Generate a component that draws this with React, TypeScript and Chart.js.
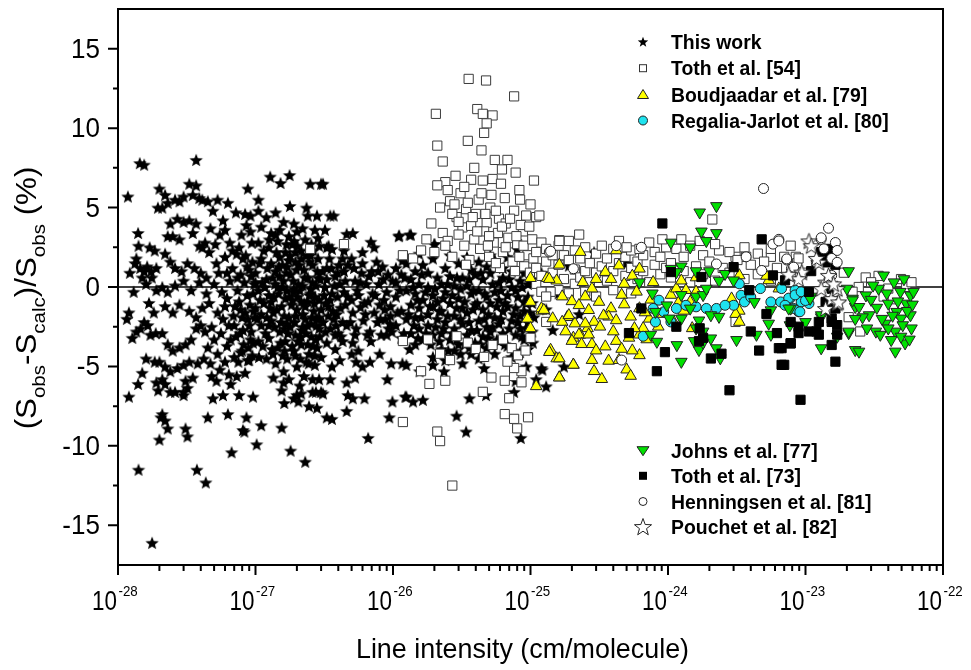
import { useEffect, useRef } from 'react';
import { Chart, registerables } from 'chart.js';

Chart.register(...registerables);

type Pt = [number, number];

// Line intensity (cm/molecule), relative deviation (%)
const thisWork: Pt[] = [
  [1.18e-28, 5.7], [1.44e-28, 7.8], [1.55e-28, 7.7], [1.2e-28, -6.9], [1.4e-28, 3.4], [1.41e-28, 2.6],
  [1.16e-28, -2.0], [1.2e-28, -1.6], [1.27e-28, -3.2], [1.36e-28, -2.8], [1.46e-28, -2.6], [1.4e-28, -6.1],
  [1.5e-28, -5.4], [1.41e-28, -11.5], [1.77e-28, -16.1], [1.22e-28, 0.9], [1.33e-28, 1.5], [1.45e-28, 1.2],
  [1.55e-28, 1.0], [1.63e-28, 1.3], [1.74e-28, 1.0], [1.6e-28, 0.2], [1.5e-28, 0.6], [1.7e-28, 2.5],
  [1.85e-28, 2.3], [1.9e-28, 1.2], [1.95e-28, 5.0], [2.0e-28, 6.2], [1.72e-28, -3.0], [1.85e-28, -4.7],
  [1.9e-28, -6.0], [1.96e-28, -6.5], [1.82e-28, -1.6], [1.65e-28, -2.4], [1.9e-28, -0.2], [1.6e-28, -4.5],
  [1.55e-28, -2.2], [1.76e-28, 0.6], [1.3e-28, -0.3], [1.68e-28, -1.0], [1.88e-28, -2.9], [1.36e-28, 1.8],
  [2.0e-28, -9.6], [2.1e-28, -8.0], [2.2e-28, -8.4], [2.3e-28, -8.9], [2.05e-28, -8.2], [3.1e-28, -8.9],
  [3.2e-28, -9.4], [3.75e-28, -11.5], [4.35e-28, -12.3], [3.7e-28, 8.0], [2.2e-28, 5.8], [2.1e-28, 5.0],
  [2.3e-28, 5.3], [2.6e-28, 5.5], [2.8e-28, 5.4], [3.0e-28, 5.7], [3.3e-28, 6.5], [3.7e-28, 6.4],
  [3.9e-28, 5.6], [4.1e-28, 5.5], [3.5e-28, 5.8], [2.4e-28, 4.0], [2.7e-28, 4.3], [3.0e-28, 4.1],
  [3.3e-28, 4.2], [3.7e-28, 4.0], [2.3e-28, 3.2], [2.5e-28, 3.2], [2.8e-28, 3.0], [3.5e-28, 3.4],
  [3.9e-28, 2.6], [4.1e-28, 2.5], [4.3e-28, 2.8], [2.2e-28, 2.1], [2.4e-28, 1.6], [2.6e-28, 1.2],
  [2.9e-28, 1.0], [3.2e-28, 1.5], [3.6e-28, 1.2], [4.0e-28, 0.9], [2.1e-28, 0.0], [2.3e-28, -0.3],
  [2.6e-28, 0.1], [3.0e-28, 0.4], [3.4e-28, -0.2], [3.9e-28, 0.3], [2.2e-28, -1.2], [2.5e-28, -1.6],
  [2.8e-28, -1.1], [3.3e-28, -1.5], [3.7e-28, -1.9], [4.1e-28, -1.3], [2.1e-28, -2.9], [2.3e-28, -3.6],
  [2.5e-28, -4.0], [2.8e-28, -3.8], [3.1e-28, -3.6], [3.4e-28, -3.3], [3.7e-28, -2.6], [4.0e-28, -2.4],
  [4.3e-28, -2.8], [2.0e-28, -4.7], [2.2e-28, -5.0], [2.4e-28, -5.3], [2.7e-28, -5.1], [3.0e-28, -4.9],
  [3.3e-28, -4.7], [3.8e-28, -4.8], [4.2e-28, -4.5], [2.1e-28, -5.8], [2.2e-28, -6.1], [2.6e-28, -6.6],
  [3.0e-28, -6.6], [3.2e-28, -6.35], [3.5e-28, -5.7], [2.4e-28, -6.6], [3.0e-28, -6.8], [3.1e-28, -5.9],
  [4.5e-28, -8.2], [6.3e-28, -8.0], [6.7e-28, -10.4], [8.1e-28, -9.0], [8.3e-28, -9.1], [8.6e-28, -8.2],
  [8.8e-28, 6.2], [4.5e-28, 5.4], [5.3e-28, 5.5], [6.3e-28, 5.3], [7.2e-28, 4.7], [8.4e-28, 4.6],
  [9.2e-28, 4.5], [4.9e-28, 4.8], [5.8e-28, 4.2], [4.7e-28, 3.7], [5.5e-28, 3.3], [6.5e-28, 2.8],
  [7.6e-28, 2.5], [8.5e-28, 2.0], [9.5e-28, 1.6], [4.6e-28, 2.2], [5.2e-28, 1.5], [6.0e-28, 1.9],
  [6.8e-28, 1.2], [7.8e-28, 0.8], [9.0e-28, 1.1], [4.4e-28, 0.6], [5.0e-28, 0.2], [5.7e-28, -0.3],
  [6.5e-28, 0.4], [7.4e-28, -0.2], [8.3e-28, 0.3], [9.6e-28, -0.4], [4.6e-28, -1.0], [5.3e-28, -1.6],
  [6.0e-28, -1.2], [6.9e-28, -1.8], [7.8e-28, -1.4], [8.8e-28, -2.0], [9.7e-28, -1.5], [4.8e-28, -2.5],
  [5.6e-28, -2.9], [6.4e-28, -2.4], [7.2e-28, -3.1], [8.1e-28, -2.7], [9.2e-28, -3.3], [4.5e-28, -3.8],
  [5.3e-28, -4.2], [6.2e-28, -3.7], [7.0e-28, -4.4], [8.0e-28, -4.0], [9.0e-28, -4.6], [4.7e-28, -4.8],
  [6.0e-28, -4.7], [7.5e-28, -4.7], [8.8e-28, -4.6], [5.5e-28, -5.2], [7.3e-28, -5.6], [8.4e-28, -5.4],
  [4.9e-28, -7.0], [5.8e-28, -6.8], [7.6e-28, -6.8], [9.6e-28, -6.9], [5.2e-28, -5.9], [6.6e-28, -6.1],
  [7.0e-28, -2.4], [7.6e-28, -0.9], [8.2e-28, -3.6], [8.7e-28, 1.3], [9.3e-28, -2.8], [9.8e-28, 0.2],
  [7.3e-28, 2.1], [8.0e-28, -1.9], [8.9e-28, -3.8], [9.4e-28, 2.8], [6.2e-28, 0.9], [6.6e-28, -3.3],
  [5.8e-28, -2.0], [7.9e-28, 3.3], [9.1e-28, -1.1],
  [7.1e-28, -1.2], [7.4e-28, 0.6], [7.7e-28, -2.9], [8.1e-28, 1.8], [8.4e-28, -1.6], [8.7e-28, -0.5],
  [9.0e-28, -2.4], [9.3e-28, 0.7], [9.6e-28, -3.5], [9.9e-28, -1.9], [8.6e-28, 3.9], [9.2e-28, 3.5],
  [7.8e-28, -4.1], [9.5e-28, -4.3], [5.0e-28, -3.3], [5.4e-28, 0.9], [6.2e-28, -0.7], [6.8e-28, 2.3],
  [4.4e-28, -0.4], [5.1e-28, 2.7], [6.0e-28, 3.6], [4.8e-28, -5.6], [6.4e-28, -5.5],
  [1.02e-27, -9.9], [1.1e-27, -8.7], [1.55e-27, -8.85], [1.8e-27, -10.3], [2.3e-27, -11.0], [1.28e-27, 6.95],
  [1.52e-27, 6.55], [1.77e-27, 7.05], [2.5e-27, 6.5], [3.0e-27, 6.5], [1.05e-27, 5.5], [1.05e-27, 4.8],
  [1.2e-27, 4.4], [1.4e-27, 4.7], [1.78e-27, 5.1], [2.35e-27, 5.0], [2.4e-27, 4.5], [1.9e-27, 4.0],
  [1.6e-27, 4.1], [2.8e-27, 4.5], [1.1e-27, 3.8], [1.3e-27, 3.4], [1.5e-27, 3.6], [1.75e-27, 3.2],
  [2.0e-27, 3.5], [2.3e-27, 3.0], [2.7e-27, 3.6], [2.9e-27, 2.6], [1.05e-27, 2.8], [1.25e-27, 2.5],
  [1.45e-27, 2.9], [1.65e-27, 2.2], [1.85e-27, 2.7], [2.15e-27, 2.3], [2.5e-27, 2.0], [2.85e-27, 1.8],
  [1.1e-27, 1.8], [1.3e-27, 1.5], [1.5e-27, 1.9], [1.7e-27, 1.3], [1.95e-27, 1.6], [2.25e-27, 1.1],
  [2.6e-27, 1.4], [1.0e-27, 0.9], [1.2e-27, 0.5], [1.4e-27, 1.0], [1.6e-27, 0.4], [1.8e-27, 0.8],
  [2.05e-27, 0.2], [2.4e-27, 0.6], [2.75e-27, 0.1], [1.05e-27, -0.2], [1.25e-27, -0.5], [1.45e-27, 0.0],
  [1.65e-27, -0.7], [1.9e-27, -0.3], [2.15e-27, -0.9], [2.5e-27, -0.4], [2.9e-27, -0.8], [1.0e-27, -1.3],
  [1.15e-27, -1.0], [1.35e-27, -1.6], [1.55e-27, -1.2], [1.75e-27, -1.9], [2.0e-27, -1.4], [2.3e-27, -2.0],
  [2.65e-27, -1.5], [1.1e-27, -2.4], [1.3e-27, -2.1], [1.5e-27, -2.8], [1.7e-27, -2.3], [1.95e-27, -3.0],
  [2.2e-27, -2.5], [2.55e-27, -3.1], [2.9e-27, -2.6], [1.05e-27, -3.4], [1.25e-27, -3.2], [1.45e-27, -3.8],
  [1.65e-27, -3.4], [1.9e-27, -4.0], [2.15e-27, -3.6], [2.45e-27, -4.2], [2.8e-27, -3.8], [1.2e-27, -4.5],
  [1.4e-27, -4.8], [1.7e-27, -4.5], [2.0e-27, -5.0], [2.35e-27, -4.7], [2.7e-27, -4.9], [1.35e-27, -5.7],
  [1.6e-27, -5.3], [1.75e-27, -5.8], [2.1e-27, -6.2], [2.25e-27, -5.6], [2.6e-27, -5.8], [1.62e-27, -7.3],
  [1.55e-27, -6.5], [1.6e-27, -6.0], [1.9e-27, -7.0], [2.0e-27, -6.8], [2.05e-27, -7.2], [2.15e-27, -6.7],
  [2.45e-27, -7.5], [2.6e-27, -6.6], [2.75e-27, -6.6], [2.9e-27, -5.8], [1.95e-27, -4.3],
  [1.08e-27, -0.8], [1.12e-27, 0.3], [1.18e-27, -2.9], [1.22e-27, 1.2], [1.28e-27, -1.3], [1.33e-27, 0.6],
  [1.38e-27, -2.5], [1.42e-27, 2.2], [1.47e-27, -0.4], [1.52e-27, -3.5], [1.57e-27, 1.4], [1.62e-27, -1.8],
  [1.68e-27, 0.9], [1.72e-27, -2.9], [1.78e-27, 2.0], [1.83e-27, -1.1], [1.88e-27, 0.4], [1.93e-27, -2.2],
  [1.98e-27, 1.1], [2.04e-27, -3.4], [2.1e-27, -0.2], [2.16e-27, 1.8], [2.22e-27, -1.7], [2.28e-27, 0.6],
  [2.34e-27, -2.9], [2.4e-27, -0.9], [2.47e-27, 1.6], [2.54e-27, -2.3], [2.6e-27, 0.3], [2.68e-27, -1.0],
  [2.75e-27, -3.3], [2.82e-27, 1.0], [2.9e-27, -1.9], [2.96e-27, 0.5], [1.06e-27, -4.4], [1.32e-27, -3.9],
  [1.58e-27, -4.3], [1.85e-27, -3.7], [2.12e-27, -4.5], [2.4e-27, -3.6], [2.7e-27, -4.3], [1.15e-27, 2.3],
  [1.4e-27, 3.3], [1.68e-27, 2.7], [1.95e-27, 2.2], [2.2e-27, 3.7], [2.55e-27, 2.7], [2.85e-27, 3.1],
  [1.1e-27, -1.7], [1.36e-27, -0.6], [1.62e-27, -2.6], [1.9e-27, -0.1], [2.18e-27, -2.7], [2.46e-27, -0.5],
  [2.78e-27, -2.4], [1.0e-27, 0.3], [1.25e-27, -2.4], [1.5e-27, 0.7], [1.76e-27, -0.6], [2.02e-27, 2.6],
  [2.3e-27, -1.2], [2.62e-27, -3.7],
  [1.03e-27, -2.0], [1.07e-27, 1.5], [1.13e-27, -3.7], [1.17e-27, 0.0], [1.21e-27, -1.9], [1.26e-27, 3.0],
  [1.3e-27, -0.9], [1.34e-27, -4.2], [1.39e-27, 0.2], [1.43e-27, -1.4], [1.48e-27, 1.3], [1.53e-27, -2.2],
  [1.58e-27, 0.0], [1.63e-27, -4.0], [1.69e-27, -0.2], [1.74e-27, 1.7], [1.79e-27, -2.5], [1.86e-27, -0.8],
  [1.91e-27, 2.9], [1.97e-27, -1.8], [2.03e-27, -0.6], [2.08e-27, 1.4], [2.14e-27, -3.1], [2.2e-27, 0.1],
  [2.26e-27, -1.0], [2.33e-27, 2.0], [2.39e-27, -2.4], [2.44e-27, -4.8], [2.52e-27, -0.1], [2.58e-27, -1.9],
  [2.64e-27, 2.3], [2.71e-27, -0.6], [2.79e-27, -2.0], [2.86e-27, 0.6], [2.93e-27, -3.1], [3.0e-27, -1.4],
  [3.08e-27, 1.0], [3.15e-27, -0.5], [3.22e-27, -2.8], [3.3e-27, 0.5], [3.38e-27, -1.8], [3.48e-27, -0.8],
  [3.57e-27, 1.2], [3.65e-27, -1.5], [3.75e-27, 0.1], [3.85e-27, -2.4], [3.95e-27, -0.6], [4.05e-27, 1.4],
  [4.15e-27, -1.3], [4.3e-27, -2.2], [4.4e-27, -0.3],
  [3.1e-27, 6.5], [3.5e-27, 4.5], [3.7e-27, 4.5], [4.6e-27, 3.35], [5.1e-27, 3.4], [6.9e-27, 2.85],
  [1.1e-26, 3.2], [3.2e-27, 3.6], [3.4e-27, 2.6], [3.6e-27, 2.4], [4.3e-27, 1.8], [5.0e-27, 1.8],
  [6.0e-27, 1.5], [7.0e-27, 1.0], [7.8e-27, 1.0], [8.5e-27, 0.5], [1.17e-26, 1.67], [3.3e-27, 1.2],
  [3.8e-27, 0.7], [4.4e-27, 1.0], [5.3e-27, 0.4], [6.4e-27, 0.2], [3.2e-27, 0.0], [3.6e-27, -0.4],
  [4.1e-27, 0.2], [4.7e-27, -0.6], [5.5e-27, -0.2], [6.6e-27, -0.9], [7.4e-27, -0.5], [8.0e-27, -1.1],
  [9.0e-27, -0.3], [9.6e-27, -1.8], [3.4e-27, -1.2], [3.9e-27, -1.7], [4.5e-27, -1.1], [5.1e-27, -1.6],
  [5.8e-27, -1.25], [6.3e-27, -1.7], [8.8e-27, -2.0], [9.5e-27, -2.3], [3.1e-27, -2.2], [3.5e-27, -2.6],
  [4.0e-27, -2.9], [4.6e-27, -2.4], [5.3e-27, -3.0], [6.8e-27, -2.8], [8.2e-27, -3.0], [3.3e-27, -3.5],
  [3.8e-27, -3.9], [4.3e-27, -3.4], [5.0e-27, -4.2], [5.4e-27, -4.7], [6.0e-27, -5.0], [6.8e-27, -4.7],
  [3.0e-27, -4.4], [3.6e-27, -5.0], [4.1e-27, -4.6], [5.3e-27, -5.7], [4.6e-27, -6.0], [4.7e-27, -6.8],
  [5.1e-27, -7.0], [4.6e-27, -7.8], [3.6e-27, -8.3], [3.3e-27, -8.2], [2.8e-27, -7.6], [3.1e-27, -6.7],
  [3.0e-27, -6.6], [3.5e-27, -5.8], [6.2e-27, -7.0], [9.1e-27, -5.8], [9.9e-27, -7.2], [9.4e-27, -8.2],
  [1.23e-26, -6.9], [6.6e-27, -9.5], [9.7e-27, -4.8], [9.0e-27, -3.0],
  [3.25e-27, -1.0], [3.45e-27, 1.8], [3.7e-27, -2.0], [3.95e-27, 0.9], [4.2e-27, -3.1], [4.5e-27, 0.4],
  [4.9e-27, -2.2], [5.2e-27, 1.2], [5.6e-27, -0.5], [6.1e-27, -2.1], [6.7e-27, 0.7], [7.3e-27, -1.6],
  [7.9e-27, 0.2], [8.6e-27, -0.8], [9.3e-27, -2.6], [9.9e-27, 0.4], [3.3e-27, 2.5], [3.8e-27, -3.0],
  [4.4e-27, 2.3], [5.1e-27, -3.5], [5.9e-27, 0.9], [6.9e-27, -3.4], [7.7e-27, -2.2], [8.4e-27, 1.3],
  [9.6e-27, -1.2],
  [4.7e-27, 1.4], [5.0e-27, -0.8], [5.4e-27, -2.6], [5.8e-27, 0.3], [6.2e-27, -1.0], [6.5e-27, -3.0],
  [7.1e-27, -0.4], [7.6e-27, 1.6], [8.1e-27, -2.0], [8.7e-27, -1.4], [9.2e-27, 0.8], [9.8e-27, -2.8],
  [6.0e-27, 2.2], [7.3e-27, 2.5], [5.6e-27, -4.0], [8.0e-27, -4.2],
  [1.05e-26, -0.6], [1.05e-26, 1.2], [1.05e-26, -2.4], [1.05e-26, 0.3], [1.15e-26, -1.5], [1.15e-26, -3.2],
  [1.15e-26, 0.8], [1.25e-26, -0.2], [1.25e-26, -2.0], [1.25e-26, 1.5], [1.25e-26, -4.9], [1.35e-26, -1.1],
  [1.35e-26, 0.5], [1.35e-26, -2.9], [1.35e-26, 3.3], [1.45e-26, -0.4], [1.45e-26, -1.9], [1.45e-26, 1.0],
  [1.45e-26, -3.6], [1.55e-26, 0.2], [1.55e-26, -1.3], [1.55e-26, -2.6], [1.55e-26, 2.1], [1.65e-26, -0.8],
  [1.65e-26, 1.4], [1.65e-26, -3.3], [1.56e-26, -5.3], [1.8e-26, 0.0], [1.8e-26, -1.7], [1.8e-26, -2.4],
  [1.8e-26, 0.9], [1.95e-26, -0.5], [1.95e-26, -1.2], [1.95e-26, -3.0], [1.95e-26, 1.8], [1.95e-26, -4.4],
  [2.1e-26, 0.6], [2.1e-26, -2.0], [2.1e-26, -0.9], [2.0e-26, 2.7], [2.25e-26, -1.5], [2.25e-26, -2.9],
  [2.25e-26, 0.2], [2.25e-26, -3.9], [2.4e-26, 1.2], [2.4e-26, -0.3], [2.4e-26, -2.2], [2.4e-26, -4.6],
  [2.6e-26, -1.0], [2.6e-26, 0.7], [2.6e-26, -3.3], [2.6e-26, 2.0], [2.8e-26, -1.8], [2.8e-26, 0.1],
  [2.8e-26, -2.6], [2.8e-26, -4.0], [3.0e-26, 1.5], [3.0e-26, -0.7], [3.0e-26, -3.6], [3.2e-26, -1.3],
  [3.2e-26, -2.3], [3.2e-26, 0.6], [3.2e-26, -4.8], [3.45e-26, 0.1], [3.45e-26, -1.6], [3.45e-26, -3.0],
  [3.45e-26, 1.9], [3.7e-26, -0.4], [3.7e-26, -2.7], [3.7e-26, 1.1], [3.7e-26, -4.2], [3.95e-26, 0.8],
  [3.95e-26, -1.1], [3.95e-26, -3.5], [4.2e-26, -0.2], [4.2e-26, -2.1], [4.2e-26, 1.6], [4.2e-26, -4.5],
  [4.5e-26, 0.5], [4.5e-26, -1.4], [4.5e-26, -3.1], [4.6e-26, -5.1], [4.8e-26, -0.6], [4.8e-26, -2.5],
  [4.8e-26, 1.3], [4.8e-26, -3.8], [5.1e-26, 0.9], [5.1e-26, -1.0], [5.1e-26, -2.8], [5.1e-26, 2.0],
  [5.5e-26, -0.3], [5.5e-26, -1.9], [5.5e-26, 1.7], [5.5e-26, -4.2], [5.9e-26, 0.3], [5.9e-26, -2.3],
  [5.9e-26, -0.8], [5.9e-26, -3.4], [6.3e-26, 1.2], [6.3e-26, -1.5], [6.3e-26, -2.9], [6.3e-26, 0.6],
  [6.8e-26, -0.5], [6.8e-26, -1.2], [6.8e-26, -3.7], [6.8e-26, 1.9], [7.3e-26, 0.0], [7.3e-26, -2.1],
  [7.3e-26, 1.0], [7.3e-26, -4.4], [7.8e-26, -1.3], [7.8e-26, -0.2], [7.8e-26, -3.0], [8.0e-26, 2.4],
  [8.4e-26, 0.4], [8.4e-26, -1.8], [8.4e-26, -2.6], [8.4e-26, -4.1], [9.0e-26, -0.9], [9.0e-26, 0.9],
  [9.0e-26, -3.3], [9.0e-26, -1.5], [9.6e-26, 0.2], [9.6e-26, -2.2], [9.6e-26, -0.6], [9.6e-26, -3.9],
  [1.03e-25, -1.0], [1.03e-25, 0.5], [1.03e-25, -2.8],
  [1.08e-26, -1.6], [1.12e-26, -0.2], [1.2e-26, -2.9], [1.22e-26, 0.6], [1.3e-26, -1.7], [1.32e-26, -3.9],
  [1.4e-26, 0.0], [1.42e-26, -2.4], [1.5e-26, -0.8], [1.52e-26, -3.2], [1.6e-26, -1.9], [1.62e-26, 0.8],
  [1.72e-26, -0.3], [1.74e-26, -2.9], [1.86e-26, -1.2], [1.88e-26, -3.6], [2.02e-26, -0.1], [2.04e-26, -2.5],
  [2.17e-26, -1.5], [2.18e-26, -3.4], [2.32e-26, -0.7], [2.34e-26, -2.6], [2.5e-26, 0.2], [2.5e-26, -1.8],
  [2.52e-26, -4.0], [2.7e-26, -0.5], [2.7e-26, -2.9], [2.9e-26, -1.3], [2.9e-26, -3.3], [2.92e-26, 0.6],
  [3.1e-26, -0.1], [3.1e-26, -2.0], [3.1e-26, -4.2], [3.32e-26, -0.9], [3.34e-26, -3.6], [3.58e-26, 0.5],
  [3.58e-26, -2.2], [3.6e-26, -3.8], [3.82e-26, -1.4], [3.84e-26, -0.2], [4.08e-26, -2.7], [4.1e-26, -1.0],
  [4.35e-26, 0.9], [4.35e-26, -3.6], [4.62e-26, -2.0], [4.65e-26, -0.4], [4.95e-26, -1.7], [4.95e-26, -3.2],
  [5.3e-26, 0.2], [5.3e-26, -2.5], [5.7e-26, -1.2], [5.7e-26, -3.3], [6.1e-26, -0.2], [6.1e-26, -2.0],
  [6.5e-26, -3.6], [6.55e-26, -1.0], [7.0e-26, 0.5], [7.0e-26, -2.6], [7.55e-26, -1.7], [7.55e-26, -4.0],
  [8.1e-26, -0.6], [8.1e-26, -2.2], [8.7e-26, 0.0], [8.7e-26, -3.1], [9.3e-26, -1.0], [9.3e-26, -2.6],
  [9.9e-26, -1.6], [9.9e-26, 0.9], [1.04e-25, -3.5], [1.06e-25, -1.9],
  [1.25e-26, -6.9], [1.65e-26, -7.1], [1.4e-26, -7.2], [1.17e-26, -4.8], [1.95e-26, -4.9], [2.35e-26, -5.3],
  [2.9e-26, -8.1], [3.4e-26, -9.1], [3.6e-26, -7.0], [4.75e-26, -6.8], [7.8e-26, -5.9], [7.6e-26, -6.6],
  [8.5e-26, -9.5], [9.3e-26, -5.0], [1.2e-25, -5.1], [1.3e-25, -6.25], [1.1e-25, -5.8], [1.75e-25, -5.0],
  [1.45e-25, -2.7], [1.11e-26, 3.25], [1.32e-26, 3.3], [2.0e-26, 2.7], [2.26e-25, -1.7], [1.22e-25, -5.2],
  [2.9e-25, 2.2], [5.0e-25, 1.5], [1.9e-25, 1.35], [1.2e-25, 0.9], [1.3e-25, -1.4], [1.6e-25, -0.4],
];

const toth54: Pt[] = [
  [2.5e-27, 2.4], [4.4e-27, 2.7], [1.18e-26, 2.0], [1.18e-26, -3.4], [1.18e-26, -8.5],
  [3.55e-26, 13.1], [4.75e-26, 13.0], [7.6e-26, 12.0], [2.05e-26, 10.9], [4.1e-26, 11.2], [4.5e-26, 10.9],
  [5.3e-26, 10.8], [4.8e-26, 10.3], [4.6e-26, 9.7], [3.5e-26, 9.2], [2.1e-26, 8.9], [2.3e-26, 7.9],
  [5.5e-26, 8.0], [6.8e-26, 8.0], [7.8e-26, 7.2], [1.06e-25, 6.7], [2.85e-26, 7.0], [2.4e-26, 6.6],
  [2.1e-26, 6.4], [3.7e-26, 6.75], [4.5e-26, 6.7], [5.3e-26, 6.8], [6.1e-26, 6.5], [8.3e-26, 6.1],
  [2.6e-26, 5.4], [4.2e-26, 5.5], [5.2e-26, 5.8], [6.5e-26, 5.6], [8.4e-26, 5.5], [1.0e-25, 5.2],
  [1.1e-25, 4.4], [1.9e-26, 4.0], [2.3e-26, 3.4], [2.9e-26, 4.4], [3.2e-26, 3.75], [3.7e-26, 3.85],
  [4.8e-26, 4.05], [5.9e-26, 4.3], [7.6e-26, 4.8], [9.3e-26, 4.5], [2.26e-25, 3.3], [1.62e-25, 2.95],
  [1.4e-26, 1.8], [1.6e-26, 2.3], [1.75e-26, 3.0], [2.0e-26, 2.2], [2.5e-26, 2.9], [2.7e-26, 1.9],
  [3.0e-26, 3.3], [3.3e-26, 2.6], [3.6e-26, 1.7], [3.9e-26, 3.0], [4.3e-26, 2.4], [4.6e-26, 3.5],
  [5.0e-26, 1.9], [5.4e-26, 2.8], [5.8e-26, 3.4], [6.3e-26, 2.2], [6.9e-26, 3.1], [7.4e-26, 1.6],
  [8.0e-26, 2.7], [8.8e-26, 3.5], [9.5e-26, 2.0], [4.0e-26, 4.6], [5.1e-26, 5.0], [3.4e-26, 4.9],
  [6.6e-26, 4.0], [8.5e-26, 3.9], [2.7e-26, 4.6], [3.1e-26, 5.9], [9.0e-26, 1.3], [6.0e-26, 1.2],
  [2.2e-26, 5.0], [2.5e-26, 6.1], [2.8e-26, 5.2], [3.0e-26, 4.1], [3.3e-26, 6.3], [3.5e-26, 5.3],
  [3.8e-26, 4.4], [4.1e-26, 3.5], [4.4e-26, 5.9], [4.7e-26, 4.6], [5.0e-26, 3.2], [5.6e-26, 4.8],
  [6.2e-26, 3.8], [6.6e-26, 2.5], [7.1e-26, 4.3], [7.9e-26, 3.2], [8.9e-26, 2.6], [9.8e-26, 3.8],
  [3.9e-26, 7.5], [4.4e-26, 8.6], [6.2e-26, 7.4], [1.03e-25, 3.0], [1.05e-25, 1.8], [9.9e-26, 0.9],
  [2.4e-26, 2.6], [3.4e-26, 1.4], [4.9e-26, 2.6], [5.6e-26, 1.5], [7.7e-26, 1.0], [8.3e-26, 1.9],
  [1.6e-26, -5.3], [1.84e-26, -6.1], [2.4e-26, -5.9], [5.2e-26, -5.7], [6.5e-26, -5.9], [7.6e-26, -5.6],
  [8.6e-26, -5.3], [8.6e-26, -6.0], [4.5e-26, -6.6], [7.0e-26, -7.0], [6.5e-26, -8.0], [7.6e-26, -8.3],
  [9.6e-26, -8.2], [2.1e-26, -9.1], [2.2e-26, -9.7], [2.7e-26, -12.5], [8.0e-26, -8.9],
  [2.9e-26, -3.1], [3.5e-26, -3.5], [4.0e-26, -3.9], [5.3e-26, -3.65], [6.3e-26, -3.3], [7.3e-26, -3.85],
  [8.1e-26, -4.3], [7.6e-26, -5.1], [6.8e-26, -4.7], [1.8e-26, -3.3], [2.2e-26, -4.2], [2.6e-26, -4.6],
  [4.6e-26, -4.4], [9.2e-26, -4.0], [1.0e-25, -3.2],
  [1.16e-25, 4.5], [1.1e-25, 1.2], [1.1e-25, 2.2], [1.1e-25, 0.2], [1.2e-25, 2.8], [1.2e-25, 0.7],
  [1.3e-25, 1.6], [1.3e-25, -0.5], [1.3e-25, 2.4], [1.45e-25, 0.9], [1.45e-25, 2.0], [1.6e-25, 1.4],
  [1.6e-25, -0.2], [1.6e-25, 2.6], [1.75e-25, 0.5], [1.75e-25, 2.0], [1.9e-25, 1.7], [1.9e-25, -0.4],
  [1.9e-25, 2.9], [2.1e-25, 1.1], [2.1e-25, 0.2], [2.1e-25, 2.3], [2.3e-25, 1.8], [2.3e-25, 0.6],
  [2.5e-25, 2.5], [2.5e-25, 1.0], [2.5e-25, -0.3], [2.7e-25, 1.5], [2.7e-25, 0.3], [3.0e-25, 2.1],
  [3.0e-25, 0.9], [3.0e-25, -0.6], [3.3e-25, 1.3], [3.3e-25, 2.6], [3.6e-25, 0.4], [3.6e-25, 1.8],
  [4.0e-25, 2.4], [4.0e-25, 1.0], [4.0e-25, -0.2], [4.4e-25, 1.5], [4.4e-25, 2.9], [4.9e-25, 0.7],
  [4.9e-25, 1.9], [5.4e-25, 2.3], [5.4e-25, 1.2], [5.4e-25, -0.4], [6.0e-25, 1.6], [6.0e-25, 0.5],
  [6.6e-25, 2.0], [6.6e-25, 1.0], [7.3e-25, 2.8], [7.3e-25, 0.3], [8.0e-25, 1.4], [8.0e-25, 2.2],
  [8.8e-25, 0.8], [8.8e-25, 1.9], [9.7e-25, 2.5], [9.7e-25, 1.2], [1.62e-25, 2.9], [5.0e-25, 2.5],
  [6.2e-25, 2.4], [9.1e-25, 3.0], [1.25e-24, 3.0], [1.7e-24, 2.9], [2.1e-24, 4.25], [2.35e-24, 2.3],
  [3.1e-24, 1.9], [3.7e-24, 1.9], [5.6e-24, 1.9], [8.5e-24, 1.9], [1.3e-25, -2.2], [1.4e-25, -0.3],
  [1.2e-25, -0.3], [3.1e-24, -2.2], [1.3e-25, -0.6],
  [1.05e-24, 1.5], [1.05e-24, 0.6], [1.15e-24, 2.4], [1.3e-24, 1.0], [1.3e-24, 1.9], [1.45e-24, 0.3],
  [1.45e-24, 2.6], [1.6e-24, 1.3], [1.8e-24, 2.0], [1.8e-24, 0.8], [2.0e-24, 1.6], [2.2e-24, 2.7],
  [2.2e-24, 0.4], [2.5e-24, 1.2], [2.8e-24, 2.2], [2.8e-24, 0.9], [3.2e-24, 1.7], [3.6e-24, 2.5],
  [3.6e-24, 0.5], [4.0e-24, 1.4], [4.5e-24, 2.1], [4.5e-24, 0.8], [5.0e-24, 1.6], [5.6e-24, 0.4],
  [5.6e-24, 2.4], [6.2e-24, 1.2], [7.0e-24, 1.9], [7.8e-24, 0.7], [7.8e-24, 2.6], [8.7e-24, 1.5],
  [9.5e-24, 0.9], [8.9e-24, 1.8],
  [2.74e-23, 0.6], [3.4e-23, 0.7], [4.95e-23, 0.5], [5.4e-23, 0.0], [2.44e-23, 0.0], [2.06e-23, -1.9],
  [2.5e-23, -2.8], [4.4e-23, -1.35], [4.0e-23, -0.1], [2.2e-23, -0.3], [1.9e-23, 0.9], [3.0e-23, 0.3],
  [5.9e-23, 0.3], [3.7e-23, -0.6],
];

const boudjaadar79: Pt[] = [
  [2.3e-25, 2.2], [1.0e-25, 0.56], [1.62e-25, 1.4], [1.32e-25, 0.56], [1.55e-25, 0.4], [1.0e-25, -0.94],
  [1.2e-25, -1.5], [9.5e-26, -2.0], [1.0e-25, -2.6], [1.7e-25, -0.6], [2.0e-25, -0.9], [1.85e-25, -1.9],
  [2.1e-25, -2.3], [1.4e-25, -3.96], [1.55e-25, -4.5], [1.62e-25, -5.7], [2.05e-25, -4.9], [1.1e-25, -6.25],
  [2.05e-25, -3.2], [2.3e-25, -3.0], [2.6e-25, -2.6],
  [4.2e-25, 2.3], [1.37e-25, 0.5], [1.2e-25, -1.35], [1.25e-25, -1.45], [2.5e-25, -0.6], [2.8e-25, -0.1],
  [3.5e-25, 0.94], [4.4e-25, 1.35], [3.85e-25, 0.5], [4.8e-25, 0.2], [6.2e-25, 1.15], [5.9e-25, -0.3],
  [4.6e-25, -0.5], [3.85e-25, -1.35], [3.15e-25, -0.94], [2.65e-25, -1.46], [2.25e-25, -1.15],
  [1.7e-25, -2.2], [1.45e-25, -1.98], [1.9e-25, -1.78], [2.25e-25, -3.0], [2.65e-25, -3.0], [2.9e-25, -2.2],
  [3.7e-25, -1.87], [4.2e-25, -2.1], [5.35e-25, -1.87], [6.2e-25, -1.35],
  [2.35e-25, -3.6], [2.8e-25, -3.6], [3.5e-25, -3.75], [4.2e-25, -3.4], [5.2e-25, -3.2], [6.2e-25, -3.0],
  [1.37e-25, -4.1], [1.62e-25, -4.5], [2.05e-25, -4.9], [2.8e-25, -4.6], [3.7e-25, -4.65], [5.0e-25, -5.2],
  [2.9e-25, -5.3], [3.3e-25, -5.8], [1.62e-25, -5.7], [5.35e-25, -5.6], [6.2e-25, -4.3], [4.4e-25, -4.6],
  [7.3e-25, -2.0], [8.0e-25, -1.35], [1.05e-24, -0.5], [1.2e-24, -0.94], [1.45e-24, -0.94], [1.15e-24, -0.1],
  [1.6e-24, -0.3], [1.25e-24, 0.4], [1.6e-24, 0.6], [2.9e-24, -0.73], [3.3e-24, 0.73], [3.3e-24, -1.5],
  [5.4e-24, 0.42], [6.4e-24, -0.1], [3.1e-24, -1.7], [3.3e-24, -2.2], [5.2e-24, 0.7],
  [7.5e-25, -0.8], [8.5e-25, -2.5], [9.2e-25, -1.7], [7.0e-25, -3.3], [1.1e-24, -2.2], [1.3e-24, -1.5],
  [1.5e-24, -2.6], [1.35e-24, -0.2], [6.6e-25, -2.6], [5.7e-25, -2.6], [4.0e-25, -2.8], [3.2e-25, -2.5],
  [2.5e-25, -2.3], [3.0e-25, -4.0], [4.6e-25, -3.9], [5.5e-25, -4.0], [2.0e-25, -3.4], [1.8e-25, -2.8],
  [3.4e-25, -1.8], [4.8e-25, -1.1], [5.5e-25, 0.7], [3.0e-25, 0.5], [2.4e-25, 0.3], [7.8e-25, 0.3],
  [6.8e-25, -1.6],
];

const regaliaJarlot80: Pt[] = [
  [6.6e-25, -3.1], [1.05e-24, -2.2], [8.6e-25, -0.83], [7.8e-25, -1.35], [9.3e-25, -1.56], [1.15e-24, -1.35],
  [1.35e-24, -1.15], [1.6e-24, -1.25], [1.9e-24, -1.35], [2.25e-24, -1.35], [3.3e-24, 0.2], [3.4e-24, -0.52],
  [3.6e-24, -0.94], [4.0e-24, -0.63], [4.7e-24, -0.1], [5.6e-24, -0.94], [6.6e-24, -0.94], [7.7e-24, -0.73],
  [8.4e-24, -0.2], [9.3e-24, -0.94], [1.06e-23, -1.04], [8.9e-24, -1.56], [8.1e-25, -2.2], [3.0e-24, -1.15],
  [2.6e-24, -1.15], [6.7e-24, -0.1], [7.55e-24, -0.7], [8.4e-24, -0.5], [9.3e-24, -0.3], [7.1e-24, -1.15],
  [8.2e-24, -1.35], [9.1e-24, -1.56], [1.0e-23, -0.85],
];

const johns77: Pt[] = [
  [1.7e-24, 4.7], [2.25e-24, 5.1], [1.75e-24, 3.5], [2.25e-24, 3.4], [1.05e-24, 2.8], [1.45e-24, 2.5],
  [1.9e-24, 2.9], [6.2e-25, 0.3], [7.7e-25, -0.4], [9.8e-25, -1.15], [1.25e-24, 1.3], [1.6e-24, 1.0],
  [2.0e-24, 1.0], [2.35e-24, 0.4], [8.1e-25, -1.56], [1.02e-24, -1.98], [1.25e-24, -1.98], [1.68e-24, -2.1],
  [2.05e-24, -1.77], [2.35e-24, -1.87], [7.5e-25, -3.0], [8.3e-25, -3.44], [1.16e-24, -3.65], [1.68e-24, -3.96],
  [2.05e-24, -3.23], [2.25e-24, -3.85], [2.4e-24, -4.48], [1.25e-24, -4.7], [3.15e-24, -3.33], [4.4e-24, -3.0],
  [5.6e-24, -3.0], [7.7e-24, -2.4], [1.0e-23, -2.2], [1.3e-23, -1.9], [2.06e-23, -2.9], [4.25e-24, -0.94],
  [5.6e-24, -1.46], [7.8e-24, -1.35], [5.4e-24, -2.3], [1.3e-23, -3.85], [2.3e-23, -3.96], [2.06e-23, 1.0],
  [2.2e-23, -0.73], [2.3e-23, -1.25], [1.1e-23, -0.6], [1.47e-23, 0.0], [1.45e-24, -1.35], [1.6e-24, -0.6],
  [1.8e-24, -0.5], [1.9e-24, -0.1], [1.6e-24, -2.6], [1.8e-24, -2.8], [1.25e-24, -0.5], [1.55e-24, -3.4],
  [1.8e-24, -3.5], [1.05e-24, 1.15], [1.15e-24, 0.94], [2.6e-24, 0.83], [3.0e-24, 0.42],
  [3.7e-23, 0.73], [2.0e-23, -0.1], [2.75e-23, -0.52], [2.45e-23, -1.25], [2.2e-23, -0.83], [2.06e-23, -2.8],
  [2.45e-23, -4.06], [2.9e-23, -1.77], [3.4e-23, -0.1], [4.0e-23, -1.04], [4.6e-23, -1.56], [5.4e-23, -1.04],
  [5.8e-23, -0.52], [4.9e-23, -0.3], [3.25e-23, -2.8], [3.8e-23, -2.3], [4.5e-23, -2.8], [4.95e-23, -1.98],
  [5.8e-23, -1.77], [5.3e-23, -3.54], [4.2e-23, -3.33], [4.95e-23, -3.12], [4.5e-23, -4.06], [7.55e-24, -1.35],
  [1.08e-23, -0.73], [1.3e-23, -1.77], [1.7e-23, -3.12],
  [2.6e-23, -1.9], [3.0e-23, -0.8], [3.3e-23, -1.3], [3.6e-23, -2.0], [3.9e-23, -0.4], [4.3e-23, -1.8],
  [4.7e-23, -0.9], [5.1e-23, -2.4], [5.5e-23, -1.5], [5.9e-23, -2.6], [6.0e-23, -1.1], [5.7e-23, -3.3],
  [4.0e-23, -2.6], [3.5e-23, -3.0], [2.8e-23, -2.6], [6.1e-23, -0.3], [5.2e-23, 0.5], [4.4e-23, 0.3],
  [2.3e-23, -2.0], [3.1e-23, 0.1],
];

const toth73: Pt[] = [
  [9.1e-25, 4.0], [4.8e-24, 3.0], [1.05e-24, 0.94], [1.75e-24, 0.63], [3.0e-24, 1.25], [6.4e-25, -1.35],
  [1.15e-24, -2.5], [1.68e-24, -3.4], [2.05e-24, -4.5], [2.45e-24, -4.2], [5.2e-25, -2.9], [9.5e-25, -4.1],
  [8.3e-25, -5.3], [2.8e-24, -6.5], [9.2e-24, -7.1], [4.0e-24, -2.8], [4.6e-24, -4.0], [6.2e-24, -2.9],
  [6.4e-24, -3.85], [7.8e-24, -3.54], [6.7e-24, -4.9], [1.65e-23, -4.7], [3.9e-24, -0.2], [5.2e-24, -1.7],
  [5.8e-24, 0.73], [7.1e-24, 0.42], [1.06e-23, -0.31], [1.3e-23, 2.2], [1.47e-23, 1.8], [1.55e-23, -2.2],
  [1.7e-23, -3.0], [1.25e-23, -3.0], [1.06e-23, -2.8], [8.9e-24, -2.5], [1.7e-24, -2.6], [1.8e-24, -3.2],
  [7.8e-24, -2.2], [8.9e-24, -2.9], [1.2e-23, -2.8], [1.25e-23, -2.2], [7.8e-24, -3.55], [6.7e-24, -3.85],
  [7.0e-24, -4.9], [1.55e-23, -3.65], [1.47e-23, 2.4], [1.65e-23, 1.4], [1.1e-23, 1.0], [1.4e-23, 1.55],
  [1.55e-23, -0.1], [1.65e-23, -1.35], [1.7e-23, -2.4], [1.4e-23, -0.94], [1.55e-23, -1.98],
];

const henningsen81: Pt[] = [
  [4.95e-24, 6.2], [1.37e-25, 2.2], [2.05e-25, 1.15], [6.4e-25, 2.5], [2.25e-24, 1.45], [3.7e-24, 1.9],
  [4.8e-24, 1.04], [5.8e-24, 2.7], [6.4e-24, 3.0], [7.3e-24, 1.7], [7.9e-24, 1.15], [1.3e-23, 3.0],
  [1.47e-23, 3.7], [1.65e-23, 2.8], [1.7e-23, 2.3], [1.55e-23, 1.8], [4.6e-25, -4.6], [1.4e-25, 2.25],
  [1.3e-23, 3.1], [1.7e-23, 1.55], [1.55e-23, 0.73], [1.2e-23, 1.55], [7.3e-24, 1.77], [8.2e-24, 1.25],
  [6.4e-24, 2.9], [1.36e-23, 2.4], [4.2e-25, 2.6],
];

const pouchet82: Pt[] = [
  [1.06e-23, 2.9], [1.25e-23, 1.56], [9.4e-24, 0.94], [1.4e-23, 0.31], [1.7e-23, -1.0], [1.3e-23, -0.1],
  [8.9e-24, 0.52], [7.55e-24, 0.8], [1.2e-23, 1.8], [1.47e-23, 0.73], [1.55e-23, -0.73], [1.4e-23, -1.35],
  [1.74e-23, -0.94], [1.7e-23, -0.1], [1.1e-23, 2.6], [1.6e-23, 0.2],
];

const seriesLabels = [
  'This work',
  'Toth et al. [54]',
  'Boudjaadar et al. [79]',
  'Regalia-Jarlot et al. [80]',
  'Johns et al. [77]',
  'Toth et al. [73]',
  'Henningsen et al. [81]',
  'Pouchet et al. [82]',
];

const xDecades = [-28, -27, -26, -25, -24, -23, -22];
const yMajorTicks = [-15, -10, -5, 0, 5, 10, 15];
const yMinorTicks = [-12.5, -7.5, -2.5, 2.5, 7.5, 12.5];

const FONT = "'Liberation Sans', Arial, Helvetica, sans-serif";
const YELLOW = '#ffff00';
const CYAN = '#1fe3ef';
const GREEN = '#00e000';

function starPath(ctx: CanvasRenderingContext2D, cx: number, cy: number, outer: number, inner: number) {
  ctx.beginPath();
  for (let i = 0; i < 10; i++) {
    const r = i % 2 === 0 ? outer : inner;
    const a = -Math.PI / 2 + (i * Math.PI) / 5;
    const px = cx + r * Math.cos(a);
    const py = cy + r * Math.sin(a);
    if (i === 0) ctx.moveTo(px, py);
    else ctx.lineTo(px, py);
  }
  ctx.closePath();
}

function starSprite(outer: number, inner: number, fill: string, stroke: string | null) {
  const size = Math.ceil(outer * 2 + 4);
  const c = document.createElement('canvas');
  c.width = size;
  c.height = size;
  const ctx = c.getContext('2d')!;
  starPath(ctx, size / 2, size / 2 + outer * 0.1, outer, inner);
  ctx.fillStyle = fill;
  ctx.fill();
  if (stroke) {
    ctx.lineWidth = 1;
    ctx.strokeStyle = stroke;
    ctx.stroke();
  }
  return c;
}

function text(
  ctx: CanvasRenderingContext2D, s: string, x: number, y: number, font: string,
  align: CanvasTextAlign, sx = 1,
) {
  ctx.save();
  ctx.font = font;
  ctx.textAlign = align;
  ctx.textBaseline = 'alphabetic';
  ctx.translate(x, y);
  ctx.scale(sx, 1);
  ctx.fillStyle = '#000';
  ctx.fillText(s, 0, 0);
  ctx.restore();
}

type Marker = (ctx: CanvasRenderingContext2D, x: number, y: number) => void;

const legendMarkers: Marker[] = [
  (ctx, x, y) => { starPath(ctx, x, y + 0.5, 5.5, 2.3); ctx.fillStyle = '#000'; ctx.fill(); },
  (ctx, x, y) => { ctx.fillStyle = '#fff'; ctx.strokeStyle = '#333'; ctx.lineWidth = 1; ctx.fillRect(x - 3.5, y - 3.5, 7, 7); ctx.strokeRect(x - 3.5, y - 3.5, 7, 7); },
  (ctx, x, y) => { ctx.beginPath(); ctx.moveTo(x, y - 5); ctx.lineTo(x + 5.5, y + 4); ctx.lineTo(x - 5.5, y + 4); ctx.closePath(); ctx.fillStyle = YELLOW; ctx.fill(); ctx.strokeStyle = '#222'; ctx.lineWidth = 1; ctx.stroke(); },
  (ctx, x, y) => { ctx.beginPath(); ctx.arc(x, y, 4.5, 0, Math.PI * 2); ctx.fillStyle = CYAN; ctx.fill(); ctx.strokeStyle = '#222'; ctx.lineWidth = 1; ctx.stroke(); },
  (ctx, x, y) => { ctx.beginPath(); ctx.moveTo(x, y + 5); ctx.lineTo(x + 6, y - 4); ctx.lineTo(x - 6, y - 4); ctx.closePath(); ctx.fillStyle = GREEN; ctx.fill(); ctx.strokeStyle = '#222'; ctx.lineWidth = 1; ctx.stroke(); },
  (ctx, x, y) => { ctx.fillStyle = '#000'; ctx.fillRect(x - 4, y - 4, 8, 8); },
  (ctx, x, y) => { ctx.beginPath(); ctx.arc(x, y, 4, 0, Math.PI * 2); ctx.fillStyle = '#fff'; ctx.fill(); ctx.strokeStyle = '#222'; ctx.lineWidth = 1; ctx.stroke(); },
  (ctx, x, y) => { starPath(ctx, x, y + 0.8, 9, 3.7); ctx.fillStyle = '#fff'; ctx.fill(); ctx.strokeStyle = '#222'; ctx.lineWidth = 1; ctx.stroke(); },
];

const decorations = {
  id: 'decorations',
  beforeDatasetsDraw(chart: any) {
    const { ctx, chartArea: a, scales } = chart;
    const y0 = scales.y.getPixelForValue(0);
    ctx.save();
    ctx.strokeStyle = '#000';
    ctx.lineWidth = 1.5;
    ctx.beginPath();
    ctx.moveTo(a.left, y0);
    ctx.lineTo(a.right, y0);
    ctx.stroke();
    ctx.restore();
  },
  afterDraw(chart: any) {
    const { ctx, chartArea: a, scales } = chart;
    const xs = scales.x;
    const ys = scales.y;
    ctx.save();
    ctx.strokeStyle = '#000';
    ctx.lineWidth = 2;
    ctx.strokeRect(a.left, a.top, a.right - a.left, a.bottom - a.top);

    // x ticks: decades and the 2..9 subdivisions
    ctx.beginPath();
    xDecades.forEach((e, i) => {
      const px = xs.getPixelForValue(Math.pow(10, e));
      ctx.moveTo(px, a.bottom);
      ctx.lineTo(px, a.bottom + 10);
      if (i < xDecades.length - 1) {
        for (let m = 2; m <= 9; m++) {
          const mx = xs.getPixelForValue(m * Math.pow(10, e));
          ctx.moveTo(mx, a.bottom);
          ctx.lineTo(mx, a.bottom + 6);
        }
      }
    });
    yMajorTicks.forEach((v) => {
      const py = ys.getPixelForValue(v);
      ctx.moveTo(a.left, py);
      ctx.lineTo(a.left - 10, py);
    });
    yMinorTicks.forEach((v) => {
      const py = ys.getPixelForValue(v);
      ctx.moveTo(a.left, py);
      ctx.lineTo(a.left - 5, py);
    });
    ctx.stroke();

    xDecades.forEach((e) => {
      const px = xs.getPixelForValue(Math.pow(10, e));
      text(ctx, '10', px - 1, 610, `28px ${FONT}`, 'right', 0.8);
      text(ctx, String(e), px + 0.5, 596, `14px ${FONT}`, 'left', 0.95);
    });
    yMajorTicks.forEach((v) => {
      const py = ys.getPixelForValue(v);
      text(ctx, String(v), 100, py + 9, `28px ${FONT}`, 'right', 0.93);
    });

    text(ctx, 'Line intensity (cm/molecule)', (a.left + a.right) / 2 - 8, 658, `28px ${FONT}`, 'center', 0.96);

    const parts: [string, boolean][] = [
      ['(S', false], ['obs', true], ['-S', false], ['calc', true], [')/S', false], ['obs', true], [' (%)', false],
    ];
    const mainFont = `29px ${FONT}`;
    const subFont = `19px ${FONT}`;
    const stretch = 1.08;
    let total = 0;
    parts.forEach(([s, sub]) => { ctx.font = sub ? subFont : mainFont; total += ctx.measureText(s).width; });
    ctx.save();
    ctx.translate(36, 298);
    ctx.rotate(-Math.PI / 2);
    ctx.scale(stretch, 1);
    ctx.fillStyle = '#000';
    ctx.textAlign = 'left';
    ctx.textBaseline = 'alphabetic';
    let cx = -total / 2;
    parts.forEach(([s, sub]) => {
      ctx.font = sub ? subFont : mainFont;
      ctx.fillText(s, cx, sub ? 9 : 0);
      cx += ctx.measureText(s).width;
    });
    ctx.restore();

    const rowsTop = [41.7, 68.2, 94.5, 120.5];
    const rowsBottom = [450.7, 475.8, 501.5, 526.7];
    seriesLabels.forEach((label, i) => {
      const y = i < 4 ? rowsTop[i] : rowsBottom[i - 4];
      ctx.save();
      legendMarkers[i](ctx, 643, y);
      ctx.restore();
      text(ctx, label, 671, y + 7, `bold 20px ${FONT}`, 'left', 0.97);
    });
    ctx.restore();
  },
};

export default function App() {
  const ref = useRef<HTMLCanvasElement | null>(null);

  useEffect(() => {
    const canvas = ref.current;
    if (!canvas) return;
    const toXY = (pts: Pt[]) => pts.map(([x, y]) => ({ x, y }));
    const filledStar = starSprite(7, 3, '#000', null);
    const openStar = starSprite(8.5, 3.5, '#fff', '#222');

    const chart = new Chart(canvas, {
      type: 'scatter',
      data: {
        datasets: [
          { label: seriesLabels[0], data: toXY(thisWork), pointStyle: filledStar, pointRadius: 7, order: 8 },
          { label: seriesLabels[1], data: toXY(toth54), pointStyle: 'rect', pointRadius: 6.5, backgroundColor: '#fff', borderColor: '#3c3c3c', borderWidth: 1, order: 7 },
          { label: seriesLabels[2], data: toXY(boudjaadar79), pointStyle: 'triangle', pointRadius: 6.7, backgroundColor: YELLOW, borderColor: '#222', borderWidth: 1, order: 6 },
          { label: seriesLabels[3], data: toXY(regaliaJarlot80), pointStyle: 'circle', pointRadius: 5, backgroundColor: CYAN, borderColor: '#222', borderWidth: 1, order: 5 },
          { label: seriesLabels[4], data: toXY(johns77), pointStyle: 'triangle', pointRotation: 180, pointRadius: 6.7, backgroundColor: GREEN, borderColor: '#222', borderWidth: 1, order: 4 } as any,
          { label: seriesLabels[5], data: toXY(toth73), pointStyle: 'rect', pointRadius: 6.5, backgroundColor: '#000', borderColor: '#000', borderWidth: 1, order: 3 },
          { label: seriesLabels[6], data: toXY(henningsen81), pointStyle: 'circle', pointRadius: 5, backgroundColor: '#fff', borderColor: '#222', borderWidth: 1, order: 2 },
          { label: seriesLabels[7], data: toXY(pouchet82), pointStyle: openStar, pointRadius: 8, order: 1 },
        ],
      },
      options: {
        animation: false,
        responsive: false,
        events: [],
        layout: { padding: { left: 118, right: 28, top: 5, bottom: 105 } },
        plugins: { legend: { display: false }, tooltip: { enabled: false } },
        scales: {
          x: { type: 'logarithmic', min: 1e-28, max: 1e-22, display: false },
          y: { type: 'linear', min: -17.5, max: 17.5, display: false },
        },
      },
      plugins: [decorations],
    });
    return () => chart.destroy();
  }, []);

  return (
    <div style={{ position: 'fixed', left: 0, top: 0, width: 971, height: 670, background: '#fff' }}>
      <canvas ref={ref} width={971} height={670} style={{ display: 'block', width: 971, height: 670 }} />
    </div>
  );
}
